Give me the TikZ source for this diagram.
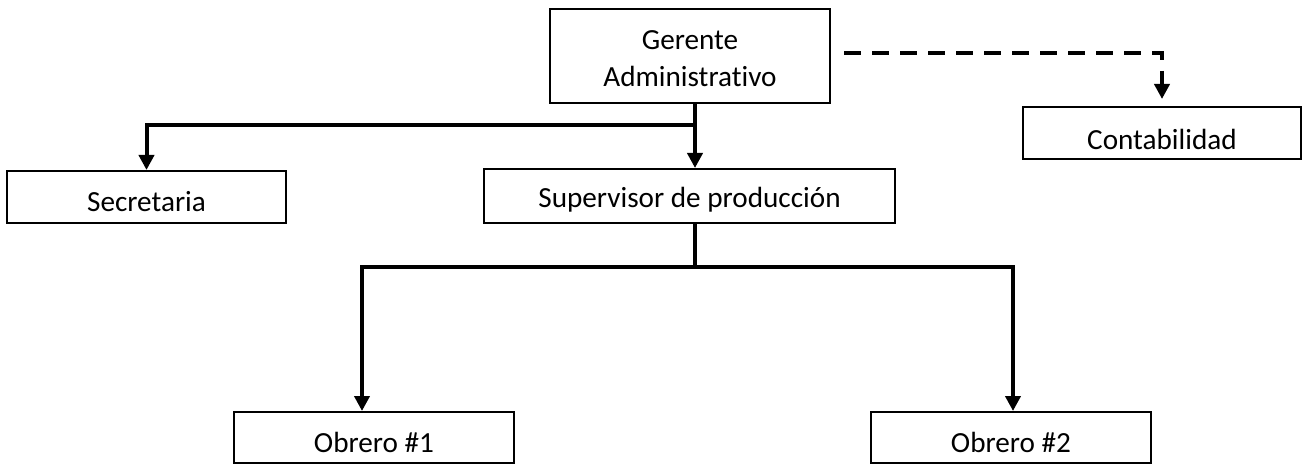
\documentclass[tikz,border=0pt]{standalone}
\usepackage{fontspec}
\setmainfont[Ligatures=NoCommon]{Carlito}
\usetikzlibrary{arrows.meta,calc}
\newcommand{\lowtxt}[2]{\raisebox{-#1}[\height][\depth]{#2}}
\begin{document}
\begin{tikzpicture}[x=0.5pt,y=-0.5pt,
  box/.style={draw=black,line width=1pt,inner sep=0pt,align=center,
    font=\fontsize{14.6pt}{18.5pt}\selectfont},
  conn/.style={line width=2pt,draw=black},
  tip/.style={-{Triangle[length=7.5pt,width=7.5pt]}},
  dashconn/.style={line width=2pt,draw=black,dash pattern=on 8.5pt off 5.5pt}
]
\useasboundingbox (0,0) rectangle (1307,465);
\node[box,minimum width=140pt,minimum height=47pt] (ger) at (690,56)
  {\lowtxt{2.5pt}{\begin{tabular}{@{}c@{}}Gerente\\Administrativo\end{tabular}}};
\node[box,minimum width=139.5pt,minimum height=26pt] (sec) at (146.5,197) {\lowtxt{2.5pt}{Secretaria}};
\node[box,minimum width=205.5pt,minimum height=27pt] (sup) at (689.5,196) {\lowtxt{2pt}{Supervisor de producción}};
\node[box,minimum width=139pt,minimum height=26pt] (con) at (1162,133) {\lowtxt{3pt}{Contabilidad}};
\node[box,minimum width=140pt,minimum height=25.5pt] (ob1) at (374,437.5) {\lowtxt{2.5pt}{Obrero \#1}};
\node[box,minimum width=140pt,minimum height=25.5pt] (ob2) at (1011,437.5) {\lowtxt{2.5pt}{Obrero \#2}};
% Gerente -> Supervisor and Secretaria
\draw[conn,tip] ([xshift=2.5pt]ger.south) -- ([xshift=2.5pt]ger.south |- sup.north);
\draw[conn,tip] ($([xshift=2.5pt]ger.south)!0.33!([xshift=2.5pt]ger.south |- sup.north)$) -| (sec.north);
% Supervisor -> Obreros
\draw[conn] ([xshift=2.5pt]sup.south) -- ++(0,43) coordinate (j);
\draw[conn,tip] (j) -| ([xshift=-6pt]ob1.north);
\draw[conn,tip] (j) -| ([xshift=1pt]ob2.north);
% Gerente -> Contabilidad (dashed)
\draw[dashconn,tip] ([xshift=6.5pt,yshift=1.5pt]ger.east) -| ([yshift=3.5pt]con.north);
\end{tikzpicture}
\end{document}
